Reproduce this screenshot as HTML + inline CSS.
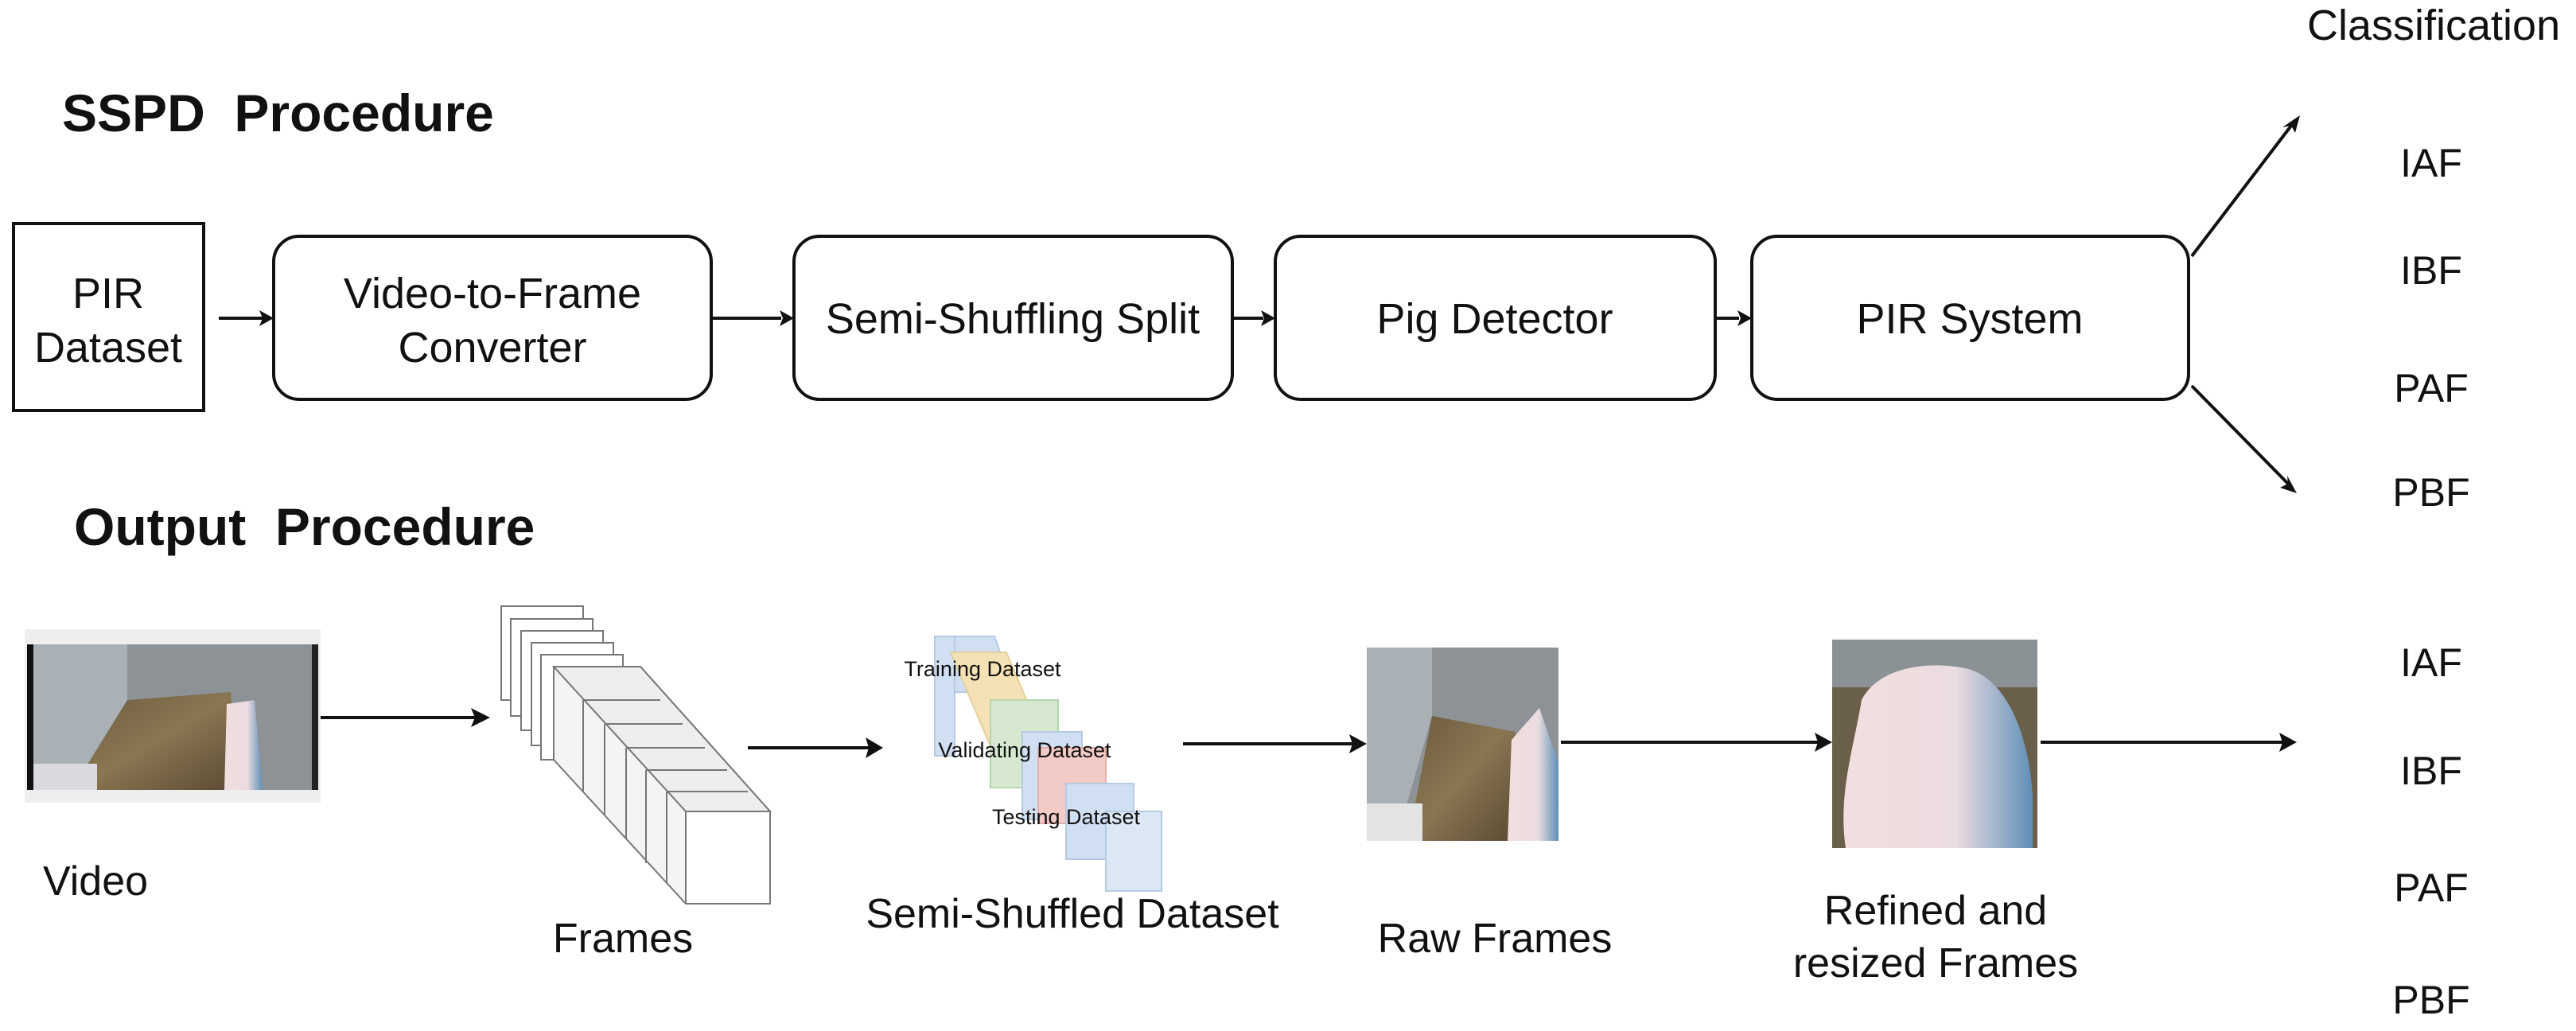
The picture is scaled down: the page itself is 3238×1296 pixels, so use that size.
<!DOCTYPE html>
<html><head><meta charset="utf-8"><style>
html,body{margin:0;padding:0;background:#fff}
svg{display:block}
text{font-family:"Liberation Sans",Arial,sans-serif;fill:#111}
</style></head><body>
<svg width="3238" height="1296" viewBox="0 0 3238 1296" xmlns="http://www.w3.org/2000/svg">
<defs>
<linearGradient id="floor" x1="0" y1="0" x2="1" y2="1">
<stop offset="0" stop-color="#6b5a3e"/><stop offset="0.5" stop-color="#8a7652"/><stop offset="1" stop-color="#5b4a33"/></linearGradient>
<linearGradient id="pig" x1="0" y1="0" x2="1" y2="0">
<stop offset="0" stop-color="#f2dede"/><stop offset="0.6" stop-color="#eadce0"/><stop offset="1" stop-color="#5f8fb8"/></linearGradient>
</defs>

<text x="2900" y="50" font-size="54">Classification</text>
<text x="78" y="165" font-size="66" font-weight="bold">SSPD&#160;&#160;Procedure</text>
<text x="93" y="685" font-size="66" font-weight="bold">Output&#160;&#160;Procedure</text>

<g fill="#fff" stroke="#111" stroke-width="4">
<rect x="17" y="281" width="239" height="235"/>
<rect x="344" y="297" width="550" height="205" rx="32"/>
<rect x="998" y="297" width="551" height="205" rx="32"/>
<rect x="1603" y="297" width="553" height="205" rx="32"/>
<rect x="2202" y="297" width="549" height="205" rx="32"/>
</g>
<g font-size="54" text-anchor="middle">
<text x="136" y="387">PIR</text><text x="136" y="455">Dataset</text>
<text x="619" y="387">Video-to-Frame</text><text x="619" y="455">Converter</text>
<text x="1273" y="419">Semi-Shuffling Split</text>
<text x="1879" y="419">Pig Detector</text>
<text x="2476" y="419">PIR System</text>
</g>

<g stroke="#111" stroke-width="4" fill="none">
<line x1="275" y1="400" x2="330" y2="400"/>
<line x1="894" y1="400" x2="982" y2="400"/>
<line x1="1549" y1="400" x2="1588" y2="400"/>
<line x1="2156" y1="400" x2="2186" y2="400"/>
<line x1="2755" y1="322" x2="2880" y2="158"/>
<line x1="2755" y1="485" x2="2876" y2="608"/>
</g>
<g fill="#111">
<polygon points="344,400 326,390 330,400 326,410"/>
<polygon points="998,400 980,390 984,400 980,410"/>
<polygon points="1603,400 1585,390 1589,400 1585,410"/>
<polygon points="2202,400 2184,390 2188,400 2184,410"/>
<polygon points="2891,145 2885,167 2880,158 2869,160"/>
<polygon points="2887,620 2866,613 2876,608 2875,598"/>
</g>

<g font-size="50" text-anchor="middle">
<text x="3056" y="222">IAF</text><text x="3056" y="357">IBF</text>
<text x="3056" y="505">PAF</text><text x="3056" y="636">PBF</text>
<text x="3056" y="850">IAF</text><text x="3056" y="986">IBF</text>
<text x="3056" y="1133">PAF</text><text x="3056" y="1274">PBF</text>
</g>

<rect x="31" y="791" width="372" height="218" fill="#eee"/>
<rect x="34" y="810" width="366" height="183" fill="#8d9296"/>
<rect x="34" y="810" width="8" height="183" fill="#111"/>
<rect x="392" y="810" width="8" height="183" fill="#222"/>
<polygon points="160,880 290,870 300,993 90,993" fill="url(#floor)"/>
<polygon points="42,810 160,810 160,880 90,993 42,993" fill="#a9b0b6"/>
<polygon points="285,885 320,880 330,993 282,993" fill="url(#pig)"/>
<rect x="42" y="960" width="80" height="33" fill="#d8dadd"/>

<line x1="403" y1="902" x2="600" y2="902" stroke="#111" stroke-width="4"/>
<polygon points="616,902 592,890 597,902 592,914" fill="#111"/>

<g stroke="#777" stroke-width="2" fill="#fff">
<polygon points="630,762 733,762 733,880 630,880"/>
<polygon points="642,778 745,778 745,900 642,900"/>
<polygon points="655,793 758,793 758,918 655,918"/>
<polygon points="668,808 771,808 771,937 668,937"/>
<polygon points="680,823 783,823 783,955 680,955"/>
<polygon points="696,838 805,838 968,1020 968,1136 862,1136 696,955" fill="#f4f4f4"/>
<polygon points="696,838 805,838 968,1020 862,1020" fill="#eee"/>
<line x1="733" y1="880" x2="830" y2="880"/>
<line x1="760" y1="910" x2="858" y2="910"/>
<line x1="787" y1="940" x2="886" y2="940"/>
<line x1="812" y1="968" x2="914" y2="968"/>
<line x1="838" y1="995" x2="940" y2="995"/>
<line x1="733" y1="880" x2="733" y2="995"/>
<line x1="760" y1="910" x2="760" y2="1025"/>
<line x1="787" y1="940" x2="787" y2="1055"/>
<line x1="812" y1="968" x2="812" y2="1085"/>
<line x1="838" y1="995" x2="838" y2="1110"/>
<rect x="862" y="1020" width="106" height="116" fill="#fff"/>
</g>

<line x1="940" y1="940" x2="1095" y2="940" stroke="#111" stroke-width="4"/>
<polygon points="1110,940 1088,927 1092,940 1088,953" fill="#111"/>

<g stroke-width="2" opacity="0.85">
<polygon points="1175,800 1250,800 1275,870 1200,870" fill="#c9daf0" stroke="#a9c0e0"/>
<rect x="1175" y="800" width="25" height="150" fill="#c9daf0" stroke="#a9c0e0"/>
<polygon points="1195,820 1265,820 1320,950 1250,950" fill="#f3deaa" stroke="#e0c888"/>
<rect x="1245" y="880" width="85" height="110" fill="#cfe6c8" stroke="#a8d0a0"/>
<rect x="1285" y="920" width="75" height="110" fill="#c9daf0" stroke="#a9c0e0"/>
<rect x="1305" y="940" width="85" height="95" fill="#f1c2bd" stroke="#e0a0a0"/>
<rect x="1340" y="985" width="85" height="95" fill="#c9daf0" stroke="#a9c0e0"/>
<rect x="1390" y="1020" width="70" height="100" fill="#d6e4f5" stroke="#a9c0e0"/>
</g>
<g font-size="27" text-anchor="middle">
<text x="1235" y="850">Training Dataset</text>
<text x="1288" y="952">Validating Dataset</text>
<text x="1340" y="1036">Testing Dataset</text>
</g>

<line x1="1487" y1="935" x2="1700" y2="935" stroke="#111" stroke-width="4"/>
<polygon points="1718,935 1696,923 1700,935 1696,947" fill="#111"/>

<rect x="1718" y="814" width="241" height="243" fill="#8d9296"/>
<polygon points="1800,900 1905,920 1905,1057 1770,1057" fill="url(#floor)"/>
<polygon points="1718,814 1800,814 1800,900 1760,1040 1718,1057" fill="#a9b0b6"/>
<polygon points="1900,930 1935,890 1959,960 1959,1057 1895,1057" fill="url(#pig)"/>
<rect x="1718" y="1010" width="70" height="47" fill="#e2e4e6"/>

<line x1="1962" y1="933" x2="2285" y2="933" stroke="#111" stroke-width="4"/>
<polygon points="2303,933 2281,921 2285,933 2281,945" fill="#111"/>

<rect x="2303" y="804" width="258" height="262" fill="#6a5f4a"/>
<rect x="2303" y="804" width="258" height="60" fill="#8a9296"/>
<path d="M2340,880 C2360,840 2420,830 2470,840 C2520,850 2550,920 2555,1000 L2555,1066 L2320,1066 C2310,1000 2330,940 2340,880 Z" fill="url(#pig)"/>

<line x1="2565" y1="933" x2="2870" y2="933" stroke="#111" stroke-width="4"/>
<polygon points="2887,933 2865,921 2869,933 2865,945" fill="#111"/>

<g font-size="52">
<text x="54" y="1125">Video</text>
<text x="783" y="1197" text-anchor="middle">Frames</text>
<text x="1348" y="1166" text-anchor="middle">Semi-Shuffled Dataset</text>
<text x="1879" y="1197" text-anchor="middle">Raw Frames</text>
<text x="2433" y="1162" text-anchor="middle">Refined and</text>
<text x="2433" y="1228" text-anchor="middle">resized Frames</text>
</g>
</svg>
</body></html>
